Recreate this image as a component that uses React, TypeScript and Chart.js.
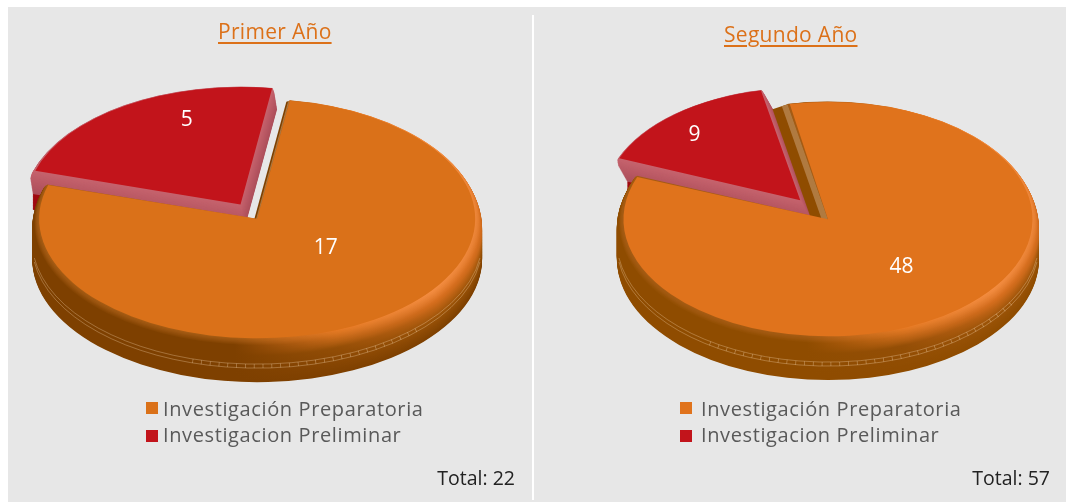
import React, { useEffect, useRef } from "react";
import { Chart, registerables } from "chart.js";

Chart.register(...registerables);

const categories = ["Investigación Preparatoria", "Investigacion Preliminar"];
const primerValues = [17, 5];
const segundoValues = [48, 9];
const primerTitle = "Primer Año";
const segundoTitle = "Segundo Año";
const primerTotal = "Total: 22";
const segundoTotal = "Total: 57";

const FONT = '"Open Sans", "Noto Sans", sans-serif';
type RGB = [number, number, number];

const mix = (a: RGB, b: RGB, t: number): string => {
  const c = a.map((v, i) => Math.round(v + (b[i] - v) * t));
  return `rgb(${c[0]},${c[1]},${c[2]})`;
};
const ramp = (stops: [number, RGB][], f: number): string => {
  for (let i = 1; i < stops.length; i++) {
    if (f <= stops[i][0]) {
      const [f0, c0] = stops[i - 1];
      const [f1, c1] = stops[i];
      return mix(c0, c1, (f - f0) / (f1 - f0 || 1));
    }
  }
  const last = stops[stops.length - 1][1];
  return mix(last, last, 0);
};

interface Look {
  centerX: number;
  centerY: number;
  squash: number;
  radius: number;
  rotation: number;
  offsets: number[];
  shifts: number[];
  depth: number;
  bevel: number;
  ladder: [number, number];
  colors: string[];
  brown: RGB;
  faceW: number;
  faceH: number;
  labelAt: [number, number][];
}

const look1: Look = {
  centerX: 255.3,
  centerY: 217,
  squash: 0.548,
  radius: 214,
  rotation: 8.5,
  offsets: [16, 108],
  shifts: [0, 4],
  depth: 40,
  bevel: 0.032,
  ladder: [45, 108],
  colors: ["#da7119", "#c2141b"],
  brown: [126, 64, 0],
  faceW: 3,
  faceH: 1,
  labelAt: [[326, 248], [187, 120]],
};
const look2: Look = {
  centerX: 818.5,
  centerY: 213,
  squash: 0.573,
  radius: 190.5,
  rotation: 348.6,
  offsets: [56, 117],
  shifts: [0, 14],
  depth: 40,
  bevel: 0.032,
  ladder: [30, 125],
  colors: ["#e0731c", "#c2141b"],
  brown: [143, 76, 0],
  faceW: 15,
  faceH: 5,
  labelAt: [[901, 267], [694, 135]],
};

const CW = 620;
const CH = 503;

function arcGeometry(arc: any) {
  const e = (arc.options.offset || 0) / 4;
  const mid = (arc.startAngle + arc.endAngle) / 2;
  const circ = arc.endAngle - arc.startAngle;
  const fix = 1 - Math.sin(Math.min(Math.PI, circ));
  return {
    tx: Math.cos(mid) * e,
    ty: Math.sin(mid) * e,
    r: arc.outerRadius + e * fix,
  };
}

function pie3d(look: Look, values: number[]) {
  const BROWN = look.brown;
  const leftStops: [number, RGB][] = [[0, [166, 92, 20]], [0.12, BROWN], [1, BROWN]];
  const midStops: [number, RGB][] = [[0, [230, 122, 36]], [0.35, [148, 78, 6]], [1, BROWN]];
  const rightStops: [number, RGB][] = [[0, [245, 142, 66]], [0.2, [214, 110, 30]], [0.6, [156, 84, 8]], [1, BROWN]];
  return {
    id: "pie3d",
    beforeDatasetsDraw(chart: any) {
      const ctx: CanvasRenderingContext2D = chart.ctx;
      const arcs = chart.getDatasetMeta(0).data;
      const k = look.squash;
      const PINK_END = 0.62;
      const scaleFor = (d: number) => 1 + look.bevel * Math.min(1, Math.sqrt(d / 9));
      const driftFor = (i: number, d: number) => {
        const f = d / look.depth;
        return look.shifts[i] * Math.min(1, f / PINK_END);
      };
      const place = (arc: any, i: number, d: number, s: number) => {
        const g = arcGeometry(arc);
        ctx.translate(driftFor(i, d), d);
        ctx.translate(0, look.centerY);
        ctx.scale(1, k);
        ctx.translate(arc.x + g.tx, g.ty);
        ctx.scale(s, s);
        return g;
      };
      // second slice's side first: it sits behind the first slice
      const back = arcs[1];
      for (let d = look.depth; d >= 0; d -= 0.75) {
        const f = d / look.depth;
        const dark = f > PINK_END;
        ctx.save();
        const g = place(back, 1, d, scaleFor(d));
        ctx.beginPath();
        ctx.moveTo(0, 0);
        // the dark outer wall only shows at the slice's far left end
        ctx.arc(0, 0, g.r, back.startAngle, dark ? back.startAngle + 0.4 : back.endAngle);
        ctx.closePath();
        ctx.fillStyle = dark ? "rgb(160,10,16)" : ramp([[0, [198, 100, 110]], [PINK_END, [172, 78, 90]]], f);
        ctx.fill();
        ctx.restore();
      }
      const front = arcs[0];
      for (let d = look.depth; d >= 0; d -= 0.75) {
        const f = d / look.depth;
        ctx.save();
        const g = place(front, 0, d, scaleFor(d));
        const grad = ctx.createLinearGradient(-g.r, 0, g.r, 0);
        grad.addColorStop(0, ramp(leftStops, f));
        grad.addColorStop(0.45, ramp(leftStops, f));
        grad.addColorStop(0.68, ramp(midStops, f));
        grad.addColorStop(0.9, ramp(rightStops, f));
        grad.addColorStop(1, ramp(rightStops, f + 0.05));
        ctx.beginPath();
        ctx.moveTo(0, 0);
        ctx.arc(0, 0, g.r, front.startAngle, front.endAngle);
        ctx.closePath();
        ctx.fillStyle = grad;
        ctx.fill();
        ctx.restore();
      }
      // cut face along the first slice's starting edge
      const g0 = arcGeometry(front);
      const tipX = front.x + g0.tx;
      const tipY = look.centerY + g0.ty * k;
      const outX = tipX + Math.cos(front.startAngle) * g0.r;
      const outY = tipY + Math.sin(front.startAngle) * g0.r * k;
      const quad = (share: number, color: string) => {
        const w = look.faceW * share;
        const h = look.faceH * share;
        ctx.beginPath();
        ctx.moveTo(tipX, tipY);
        ctx.lineTo(outX, outY);
        ctx.lineTo(outX - w, outY + h);
        ctx.lineTo(tipX - w, tipY + h);
        ctx.closePath();
        ctx.fillStyle = color;
        ctx.fill();
      };
      quad(1, mix(BROWN, BROWN, 0));
      quad(0.38, "rgb(176,122,64)");
      // fine seam lines on the rim
      const seam = (d: number, from: number, to: number, width: number, dash: number[]) => {
        ctx.save();
        const g = place(front, 0, d, scaleFor(d));
        ctx.beginPath();
        ctx.arc(0, 0, g.r, (from * Math.PI) / 180, (to * Math.PI) / 180);
        ctx.restore();
        ctx.save();
        ctx.lineWidth = width;
        ctx.setLineDash(dash);
        ctx.strokeStyle = "rgba(255,225,190,0.38)";
        ctx.stroke();
        ctx.restore();
      };
      seam(22, 8, 172, 0.8, []);
      seam(26, 8, 172, 0.8, []);
      seam(24, look.ladder[0], look.ladder[1], 4, [0.8, 8]);
      // the faces themselves go through the library, squashed
      ctx.save();
      ctx.translate(0, look.centerY);
      ctx.scale(1, k);
      ctx.translate(0, -arcs[0].y);
    },
    afterDatasetsDraw(chart: any) {
      const ctx: CanvasRenderingContext2D = chart.ctx;
      ctx.restore();
      const left = look.centerX - CW / 2;
      ctx.save();
      ctx.fillStyle = "#ffffff";
      ctx.font = `21px ${FONT}`;
      ctx.textAlign = "center";
      ctx.textBaseline = "middle";
      values.forEach((v, i) => {
        ctx.fillText(String(v), look.labelAt[i][0] - left, look.labelAt[i][1]);
      });
      ctx.restore();
    },
  };
}

function Pie({ look, values }: { look: Look; values: number[] }) {
  const ref = useRef<HTMLCanvasElement | null>(null);
  useEffect(() => {
    if (!ref.current) return;
    const chart = new Chart(ref.current, {
      type: "pie",
      data: {
        labels: categories,
        datasets: [
          {
            data: values,
            backgroundColor: look.colors,
            borderWidth: 0,
            offset: look.offsets,
          },
        ],
      },
      options: {
        responsive: false,
        animation: false,
        rotation: look.rotation,
        radius: look.radius,
        layout: { padding: 0 },
        events: [],
        plugins: { legend: { display: false }, tooltip: { enabled: false }, title: { display: false } },
      },
      plugins: [pie3d(look, values)],
    } as any);
    return () => chart.destroy();
  }, []);
  return (
    <canvas
      ref={ref}
      width={CW}
      height={CH}
      style={{ position: "absolute", left: look.centerX - CW / 2, top: 0, width: CW, height: CH }}
    />
  );
}

const textAt = (style: React.CSSProperties): React.CSSProperties => ({
  position: "absolute",
  whiteSpace: "nowrap",
  fontFamily: FONT,
  lineHeight: "26px",
  ...style,
});

function Legend({ swatchX, textX, colors }: { swatchX: number; textX: number; colors: string[] }) {
  return (
    <>
      {categories.map((c, i) => (
        <React.Fragment key={c}>
          <div
            style={{
              position: "absolute",
              left: swatchX,
              top: 402 + i * 28,
              width: 12,
              height: 12,
              background: colors[i],
            }}
          />
          <div
            style={textAt({
              left: textX,
              top: 396 + i * 26,
              fontSize: 20,
              letterSpacing: "0.62px",
              color: "#595959",
            })}
          >
            {c}
          </div>
        </React.Fragment>
      ))}
    </>
  );
}

export default function App() {
  const titleStyle: React.CSSProperties = {
    fontSize: 21,
    letterSpacing: "0.3px",
    color: "#dc7119",
    textDecoration: "underline",
    textUnderlineOffset: 3,
  };
  return (
    <div style={{ position: "fixed", left: 0, top: 0, width: 1066, height: 503, overflow: "hidden", background: "#fff" }}>
      <div style={{ position: "absolute", left: 8, top: 7, width: 1058, height: 495, background: "#e7e7e7" }} />
      <div style={{ position: "absolute", left: 532, top: 15, width: 2, height: 485, background: "#fff" }} />
      <Pie look={look1} values={primerValues} />
      <Pie look={look2} values={segundoValues} />
      <div style={textAt({ left: 218, top: 18, ...titleStyle })}>{primerTitle}</div>
      <div style={textAt({ left: 724, top: 21, ...titleStyle })}>{segundoTitle}</div>
      <Legend swatchX={146} textX={163} colors={look1.colors} />
      <Legend swatchX={680} textX={701} colors={look2.colors} />
      <div style={textAt({ right: 1066 - 515, top: 465, fontSize: 19.5, color: "#222" })}>{primerTotal}</div>
      <div style={textAt({ right: 1066 - 1050, top: 465, fontSize: 19.5, color: "#222" })}>{segundoTotal}</div>
    </div>
  );
}
